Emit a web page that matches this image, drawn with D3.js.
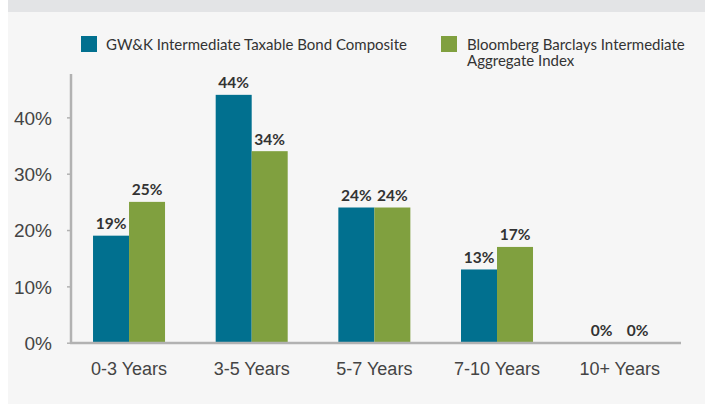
<!DOCTYPE html>
<html><head><meta charset="utf-8">
<script src="https://cdn.jsdelivr.net/npm/d3@7"></script>
<style>
html,body{margin:0;padding:0;background:#fff;}
svg{display:block;font-family:Lato,"Open Sans",sans-serif;}
</style></head>
<body>
<svg id="chart" width="705" height="404"></svg>
<script>
const categories = ["0-3 Years","3-5 Years","5-7 Years","7-10 Years","10+ Years"];
const seriesNames = ["GW&K Intermediate Taxable Bond Composite","Bloomberg Barclays Intermediate Aggregate Index"];
const legendLines2 = ["Bloomberg Barclays Intermediate","Aggregate Index"];
const gwkValues = [19,44,24,13,0];
const bbValues = [25,34,24,17,0];
const yTicks = [0,10,20,30,40];
const colors = ["#01708f","#80a03f"];

const svg = d3.select("#chart");
svg.append("rect").attr("x",8).attr("y",0).attr("width",697).attr("height",12).attr("fill","#e3e4e6");
svg.append("rect").attr("x",8).attr("y",12).attr("width",697).attr("height",392).attr("fill","#f6f6f6");

const x0 = d3.scaleBand().domain(categories).range([67.7,681]).paddingInner(0.413).paddingOuter(0.2065);
const x1 = d3.scaleBand().domain([0,1]).range([0,x0.bandwidth()]);
const y = d3.scaleLinear().domain([0,47.7]).range([342.7,74]);

const data = categories.map((c,i)=>({cat:c, vals:[gwkValues[i], bbValues[i]]}));

// y axis
const yAxis = d3.axisLeft(y).tickValues(yTicks).tickFormat(d=>d+"%").tickSize(4).tickPadding(15);
const gy = svg.append("g").attr("transform","translate(71,0)").call(yAxis);
gy.select(".domain").attr("stroke","#b2b2b2").attr("stroke-width",2.5).attr("d","M0,74V343");
gy.selectAll(".tick line").attr("stroke","#b2b2b2").attr("stroke-width",1.5);
gy.selectAll(".tick text").attr("fill","#444").style("font-size","19px").attr("dy","0.36em");

// bars
const groups = svg.append("g").selectAll("g").data(data).join("g")
  .attr("transform",d=>`translate(${x0(d.cat)},0)`);
groups.selectAll("rect").data(d=>d.vals).join("rect")
  .attr("x",(v,i)=>x1(i)).attr("width",x1.bandwidth())
  .attr("y",v=>y(v)).attr("height",v=>y(0)-y(v))
  .attr("fill",(v,i)=>colors[i]);
groups.selectAll("text").data(d=>d.vals).join("text")
  .attr("x",(v,i)=>x1(i)+x1.bandwidth()/2).attr("y",v=>y(v)-6.5)
  .attr("text-anchor","middle").attr("fill","#333").style("font-size","15.5px").style("font-weight","bold")
  .text(v=>v+"%");

// x axis
const xAxis = d3.axisBottom(x0).tickSize(0).tickPadding(19);
const gx = svg.append("g").attr("transform","translate(0,343)").call(xAxis);
gx.select(".domain").attr("stroke","#b2b2b2").attr("stroke-width",2.5).attr("d","M70,0H681");
gx.selectAll(".tick text").attr("fill","#444").style("font-size","18px").attr("dy","0.71em");

// legend
const leg = svg.append("g");
leg.append("rect").attr("x",81).attr("y",36).attr("width",16).attr("height",16).attr("fill",colors[0]);
leg.append("text").attr("x",106).attr("y",49.5).attr("fill","#333").style("font-size","15px").text(seriesNames[0]);
leg.append("rect").attr("x",441).attr("y",36).attr("width",16).attr("height",16).attr("fill",colors[1]);
leg.selectAll("text.l2").data(legendLines2).join("text").attr("class","l2")
  .attr("x",467).attr("y",(d,i)=>49.5+i*16.5).attr("fill","#333").style("font-size","15px").text(d=>d);
</script>
</body></html>
